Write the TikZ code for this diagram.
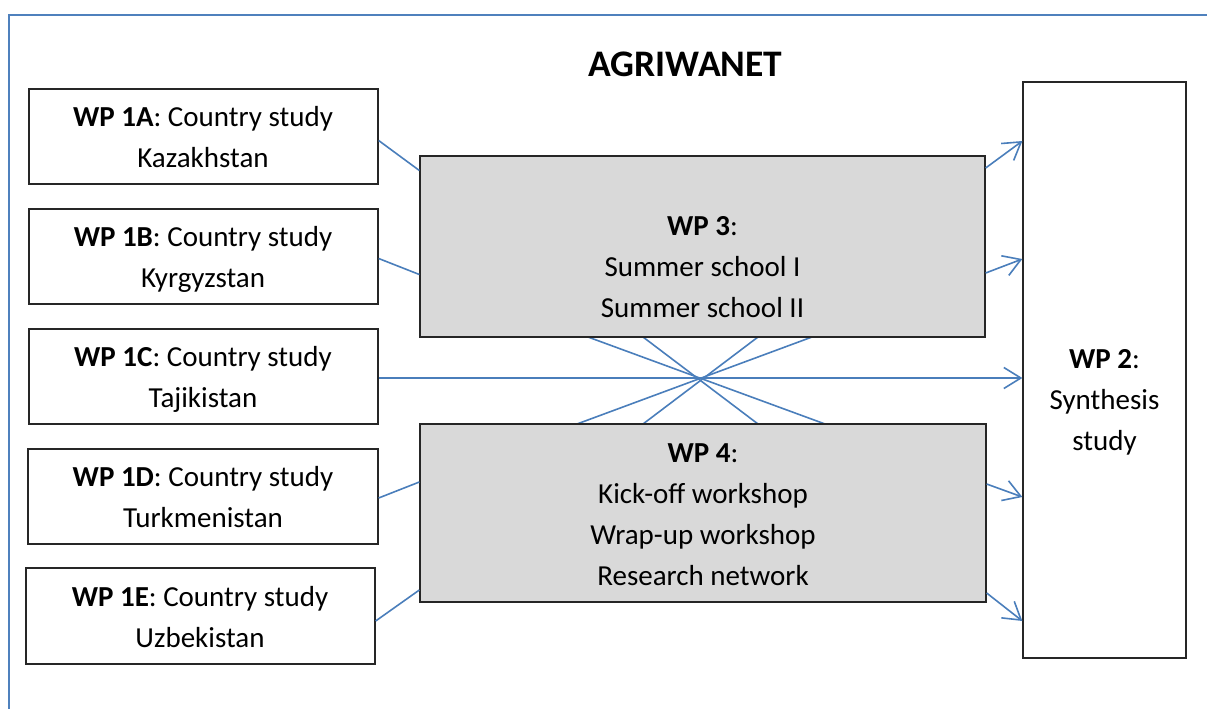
\documentclass[tikz,border=0pt]{standalone}
\usepackage{fontspec}
\setmainfont{Carlito}
\usetikzlibrary{arrows.meta,calc}
\definecolor{lineblue}{HTML}{4A7EBB}
\definecolor{frameblue}{HTML}{4F81BD}
\definecolor{boxgray}{HTML}{D9D9D9}
\tikzset{
  wpbox/.style={draw=black!85, line width=1.3pt, fill=white, inner sep=0pt, rectangle},
  graybox/.style={wpbox, fill=boxgray},
  txt/.style={align=center, inner sep=0pt, font=\fontsize{29}{41}\selectfont},
  link/.style={draw=lineblue, line width=1.6pt},
  arrlink/.style={link, -{Straight Barb[length=17pt, width=21pt, line width=1.6pt]}},
}
\begin{document}
\begin{tikzpicture}[x=1pt,y=-1pt]
\useasboundingbox (0,0) rectangle (1207,709);
\draw[frameblue, line width=2.2pt] (9,709) -- (9,15) -- (1207,15);

\node[wpbox, minimum width=349pt, minimum height=95pt] (wp1a) at (203.5,136.5) {};
\node[wpbox, minimum width=349pt, minimum height=95pt] (wp1b) at (203.5,256.5) {};
\node[wpbox, minimum width=349pt, minimum height=95pt] (wp1c) at (203.5,376.5) {};
\node[wpbox, minimum width=350pt, minimum height=95pt] (wp1d) at (203,496.5) {};
\node[wpbox, minimum width=349pt, minimum height=96pt] (wp1e) at (200.5,616) {};
\node[wpbox, minimum width=163pt, minimum height=576pt] (wp2) at (1104.5,370) {};

\coordinate (wp3c) at (702.5,246.5);
\coordinate (wp4c) at (703,513);

% crossing lines between WP3 and WP4
\draw[link] (588,337) -- (825,424);
\draw[link] (643,337) -- (758,424);
\draw[link] (758,337) -- (643,424);
\draw[link] (812,337) -- (577,424);

\node[graybox, minimum width=565pt, minimum height=181pt] (wp3) at (wp3c) {};
\node[graybox, minimum width=566pt, minimum height=178pt] (wp4) at (wp4c) {};

% left connectors
\draw[link] ($(wp1a.east)+(0,4)$) -- ($(wp3.west)+(0,-76)$);
\draw[link] ($(wp1b.east)+(0,2)$) -- ($(wp3.west)+(0,28)$);
\draw[link] ($(wp1d.east)+(0,1.5)$) -- ($(wp4.west)+(0,-31)$);
\draw[link] ($(wp1e.east)+(0,5)$) -- ($(wp4.west)+(0,77)$);

% arrows to WP2
\draw[arrlink] ($(wp3.east)+(0,-78.5)$) -- ($(wp2.west)+(0,-229)$);
\draw[arrlink] ($(wp3.east)+(0,26.5)$) -- ($(wp2.west)+(0,-111)$);
\draw[arrlink] ($(wp1c.east)+(0,1.5)$) -- ($(wp2.west)+(0,8)$);
\draw[arrlink] ($(wp4.east)+(0,-29)$) -- ($(wp2.west)+(0,127)$);
\draw[arrlink] ($(wp4.east)+(0,80)$) -- ($(wp2.west)+(0,251)$);

% texts (anchor=base is the baseline of the last line)
\node[txt, anchor=base, font=\fontsize{37.5}{44}\selectfont\bfseries] (title) at (685.5,77) {AGRIWANET};
\node[txt, anchor=base] (t1a) at (203,167) {\textbf{WP 1A}: Country study\\Kazakhstan};
\node[txt, anchor=base] (t1b) at (203,287) {\textbf{WP 1B}: Country study\\Kyrgyzstan};
\node[txt, anchor=base] (t1c) at (203,407) {\textbf{WP 1C}: Country study\\Tajikistan};
\node[txt, anchor=base] (t1d) at (203,527) {\textbf{WP 1D}: Country study\\Turkmenistan};
\node[txt, anchor=base] (t1e) at (200,647) {\textbf{WP 1E}: Country study\\Uzbekistan};
\node[txt, anchor=base] (t3) at (702.5,317) {\textbf{WP 3}:\\Summer school I\\Summer school II};
\node[txt, anchor=base] (t4) at (703,585) {\textbf{WP 4}:\\Kick-off workshop\\Wrap-up workshop\\Research network};
\node[txt, anchor=base] (t2) at (1104.5,450) {\textbf{WP 2}:\\Synthesis\\study};
\end{tikzpicture}
\end{document}
